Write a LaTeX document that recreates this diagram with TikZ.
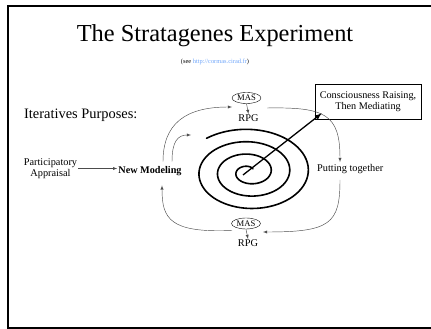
\documentclass[tikz,border=0pt]{standalone}
\usepackage{fontspec}
\setmainfont{Liberation Serif}
\usepackage{tikz}
\usetikzlibrary{shapes.geometric, arrows, calc, positioning}
\usepackage{xcolor}
\definecolor{linkblue}{RGB}{110,165,250}

\begin{document}
\begin{tikzpicture}[x=1pt, y=1pt,
		flow/.style={draw=black!70, line width=0.45pt, -latex},
		label/.style={font=\fontsize{10.3}{11.6}\selectfont, inner sep=1pt},
		mas/.style={draw, ellipse, line width=0.4pt, inner sep=0pt, minimum width=29pt, minimum height=11pt, font=\fontsize{8.6}{9}\selectfont}]
			\useasboundingbox (0,0) rectangle (431,329);
			\draw[line width=1.8pt] (8,323.3) rectangle (440,1.2);
			\node[anchor=base, font=\fontsize{24.4}{28}\selectfont] (title) at (215,287) {The Stratagenes Experiment};
			\node[anchor=base, font=\fontsize{6.4}{7}\selectfont] (see) at (215,265) {(see \textcolor{linkblue}{http://cormas.cirad.fr})};
			\node[anchor=base west, inner sep=0pt, font=\fontsize{14.4}{16}\selectfont] (purposes) at (24,210) {Iteratives Purposes:};
			\node[label, align=center] (part) at (50.5,160.5) {Participatory\\Appraisal};
			\node[label, anchor=base, font=\fontsize{10.2}{11}\selectfont\bfseries] (model) at (150,155) {New Modeling};
			\node[mas] (topmas) at (246.5,231) {MAS};
			\node[label, anchor=base] (toprpg) at (248.5,207) {RPG};
			\node[mas] (botmas) at (246,105.5) {MAS};
			\node[label, anchor=base] (botrpg) at (248,82) {RPG};
			\node[draw, line width=0.8pt, align=center, minimum width=106pt, minimum height=35pt, font=\fontsize{10.2}{11.4}\selectfont] (box) at (368,227.5) {Consciousness Raising,\\Then Mediating};
			\node[label, anchor=base west] (putting) at (316,157) {Putting together};
			% loop round the spiral
			\coordinate (a1) at ($(model.north)+(13,4)$);
			\coordinate (a2) at (232,222);
			\coordinate (e1) at ($(model.north)+(22,4)$);
			\coordinate (e2) at (191,194);
			\coordinate (b1) at (267,221);
			\coordinate (b2) at (340,167);
			\coordinate (c1) at (340,149);
			\coordinate (c2) at (263,97);
			\coordinate (d1) at (232,98.5);
			\coordinate (d2) at ($(model.south)+(12,-8)$);
			\draw[flow] (part.east) -- (part.east -| model.west);
			\draw[flow] (a1) .. controls (163,205) and (185,222) .. (a2);
			\draw[flow] (e1) .. controls (172,188) and (178,194) .. (e2);
			\draw[flow] (b1) .. controls (325,222) and (340,215) .. (b2);
			\draw[flow] (c1) .. controls (340,105) and (330,97) .. (c2);
			\draw[flow] (d1) .. controls (170,96) and (162,110) .. (d2);
			\draw[flow] (topmas.south) -- (toprpg.north);
			\draw[flow] (botmas.south) -- (botrpg.north);
			% spiral
			\coordinate (core) at (249,157);
			\draw[line width=1.6pt, line cap=round] plot[domain=0:1160, samples=240, smooth] ({249+60*(1.1-0.31*\x/360)*cos(130-\x)}, {157+40*(1.1-0.31*\x/360)*sin(130-\x)});
			\coordinate (tip) at ($(box.south west)+(7,6)$);
			\draw[line width=1.3pt, -latex] ($(core)+(-6,-3)$) -- (tip);
\end{tikzpicture}
\end{document}
